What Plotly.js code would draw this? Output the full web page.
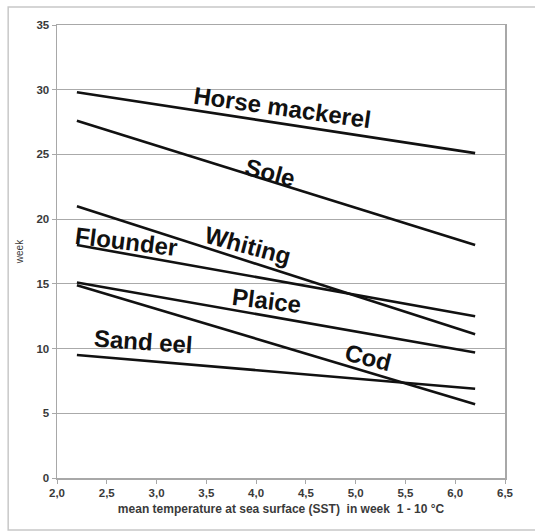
<!DOCTYPE html>
<html><head><meta charset="utf-8">
<script src="https://cdn.plot.ly/plotly-3.0.1.min.js"></script>
<style>html,body{margin:0;padding:0;background:#fff}#chart{width:535px;height:532px}</style>
</head><body><div id="chart"></div>
<script>
// species lines (start at 2.2 °C, end at 6.2 °C)
const species = ["Horse mackerel","Sole","Whiting","Flounder","Plaice","Cod","Sand eel"];
const xStart = 2.2, xEnd = 6.2;
const weekStart = [29.8, 27.6, 21.0, 18.0, 15.1, 14.9, 9.5];
const weekEnd   = [25.1, 18.0, 11.1, 12.5, 9.7, 5.7, 6.9];
// label anchor positions (data units) and angles
const labelX = [4.27, 4.14, 3.92, 2.70, 4.10, 5.13, 2.87];
const labelY = [28.66, 23.64, 18.0, 18.3, 13.75, 9.34, 10.58];
const labelAngle = [8, 15, 15, 7, 7, 14, 4];
const xTicks = [2.0,2.5,3.0,3.5,4.0,4.5,5.0,5.5,6.0,6.5];
const yTicks = [0,5,10,15,20,25,30,35];

const traces = species.map((s,i)=>({
  x:[xStart,xEnd], y:[weekStart[i],weekEnd[i]], mode:'lines', name:s,
  line:{color:'#111',width:2.6}, showlegend:false, hoverinfo:'skip'
}));
const annotations = species.map((s,i)=>({
  x:labelX[i], y:labelY[i], xref:'x', yref:'y', text:s, showarrow:false,
  textangle:labelAngle[i], font:{family:'Liberation Sans, Arial, sans-serif', size:24, color:'#111', weight:'bold'}
}));
const tickFont = {family:'Liberation Sans, Arial, sans-serif', size:11.5, color:'#3a3a3a', weight:'bold'};
const layout = {
  width:535, height:532,
  margin:{l:57, r:30, t:25, b:54},
  paper_bgcolor:'#fff', plot_bgcolor:'#fff',
  separators:',.',
  showlegend:false,
  xaxis:{range:[2,6.5], tickvals:xTicks, tickformat:'.1f', showgrid:false, zeroline:false,
    showline:true, linecolor:'#a8a8a8', linewidth:1.5, mirror:true, ticks:'outside', ticklen:4, tickcolor:'#a8a8a8',
    tickfont:tickFont,
    title:{text:'mean temperature at sea surface (SST)  in week  1 - 10 °C', font:{family:'Liberation Sans, Arial, sans-serif', size:12, color:'#3a3a3a', weight:'bold'}, standoff:6}},
  yaxis:{range:[0,35], tickvals:yTicks, showgrid:true, gridcolor:'#aaaaaa', gridwidth:1.2, zeroline:false,
    showline:true, linecolor:'#a8a8a8', linewidth:1.5, mirror:true, ticks:'outside', ticklen:4, tickcolor:'#a8a8a8',
    tickfont:tickFont,
    title:{text:'week', font:{family:'Liberation Sans, Arial, sans-serif', size:10, color:'#3a3a3a'}, standoff:11}},
  annotations:annotations,
  shapes:[{type:'rect', xref:'paper', yref:'paper', x0:-0.109, x1:1.07, y0:-0.115, y1:1.04,
    line:{color:'#c8c8c8', width:1.5}, fillcolor:'rgba(0,0,0,0)', layer:'below'}]
};
Plotly.newPlot('chart', traces, layout, {displayModeBar:false, staticPlot:true});
</script></body></html>
